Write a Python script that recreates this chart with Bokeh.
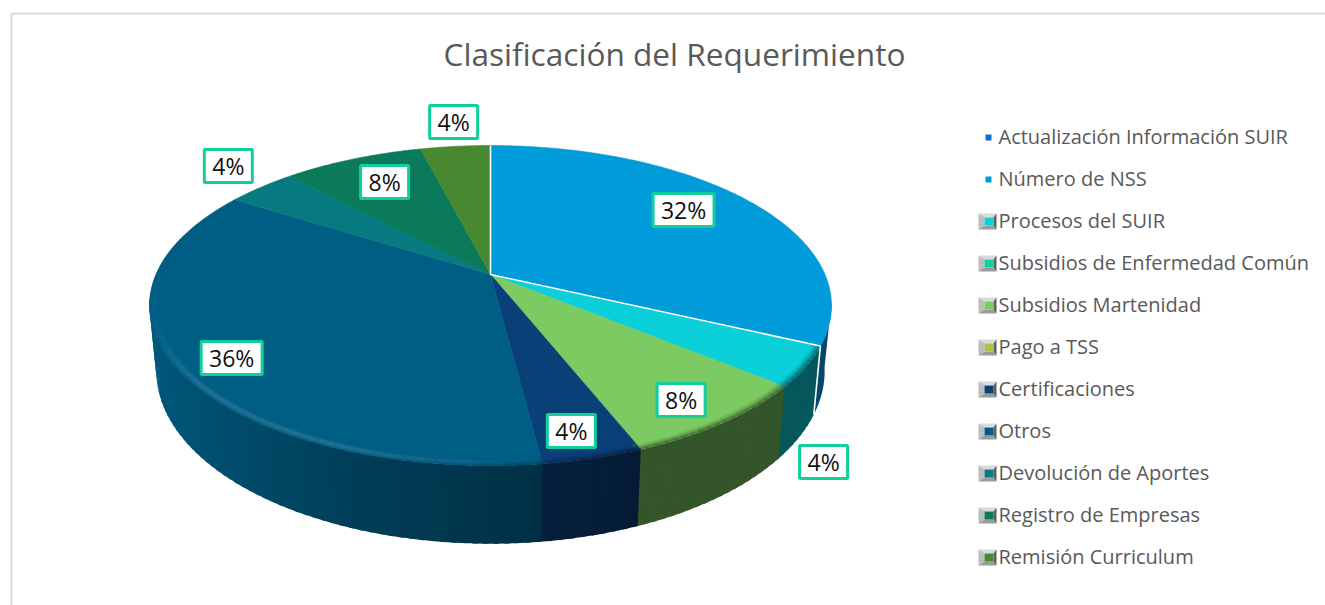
import numpy as np
from bokeh.plotting import figure
from bokeh.models import Range1d, ColumnDataSource
from bokeh.core.properties import value
from bokeh.embed import file_html
from bokeh.resources import INLINE

# ---- data ----
title_text = "Clasificación del Requerimiento"
categories = ["Actualización Información SUIR", "Número de NSS", "Procesos del SUIR",
              "Subsidios de Enfermedad Común", "Subsidios Martenidad", "Pago a TSS",
              "Certificaciones", "Otros", "Devolución de Aportes", "Registro de Empresas",
              "Remisión Curriculum"]
percent = [0, 32, 4, 0, 8, 0, 4, 36, 4, 8, 4]
colors = ["#0F6FC6", "#009BD9", "#0BD0D9", "#10CF9B", "#7CCA62", "#A5C249",
          "#0A4078", "#005E85", "#077A80", "#0A7A5A", "#488830"]

# ---- layout / style (data units are page pixels) ----
W, H = 1325, 605
CX, CY, A, B, K, D, BSCALE = 490.0, 274.0, 154.0, 334.5, 0.194, 63.0, 0.98
LABEL_POLAR = {1: (0.776, -3.2), 2: (1.275, 18.3), 4: (0.862, 1.0), 6: (0.875, 0.9),
               7: (0.854, -2.9), 8: (1.214, 2.3), 9: (0.763, 1.1), 10: (1.228, 1.0)}
FONT = "Open Sans"
GREY = "#595959"
BOX = "#10CF9B"


def top(theta, r=1.0):
    t = np.radians(theta)
    u, v = r * np.sin(t), r * np.cos(t)
    den = 1 + K * v
    return CX + B * u / den, CY - A * v / den


def bottom(theta):
    t = np.radians(theta)
    u, v = np.sin(t), np.cos(t)
    den = 1 + K * v
    return CX + BSCALE * B * u / den, CY + (-A * v + D) / den


def rgb(h):
    return np.array([int(h[i:i + 2], 16) for i in (1, 3, 5)], dtype=float)


def hexc(c):
    c = np.clip(np.round(c), 0, 255).astype(int)
    return "#%02x%02x%02x" % tuple(c)


def wall_shade(x):
    return np.interp(x, [150, 250, 350, 480, 600, 640], [0.92, 0.78, 0.66, 0.56, 0.46, 0.42])


p = figure(width=W, height=H, x_range=Range1d(0, W), y_range=Range1d(H, 0),
           x_axis_type=None, y_axis_type=None, toolbar_location=None, output_backend="svg",
           min_border=0, outline_line_color=None, background_fill_color="white",
           border_fill_color="white")
p.grid.visible = False

# chart frame
p.line([11, 11], [H, 13], line_color="#D9D9D9", line_width=2)
p.line([11, W], [13, 13], line_color="#D9D9D9", line_width=2)

# slice angle spans
spans = []
acc = 0.0
for v in percent:
    spans.append((acc * 3.6, (acc + v) * 3.6))
    acc += v

# walls (overlapping narrow strips imitate the horizontal light gradient)
wx, wy, wc = [], [], []
OVER = 0.7
for i, (a0, a1) in enumerate(spans):
    if a1 <= a0:
        continue
    lo, hi = max(a0, 100.0), min(a1, 262.0)
    if i == 1:  # exploded slice shows only a thin dark side
        th = np.linspace(lo, hi, 14)
        xs = [top(t)[0] for t in th] + [bottom(t)[0] for t in th[::-1]]
        ys = [top(t)[1] for t in th] + [bottom(t)[1] for t in th[::-1]]
        wx.append(xs); wy.append(ys); wc.append("#05476B")
        continue
    if hi <= lo:
        continue
    n = max(int((hi - lo) / 1.5), 1)
    edges = np.linspace(lo, hi, n + 1)
    for e0, e1 in zip(edges[:-1], edges[1:]):
        e2 = min(e1 + OVER, 262.0)
        x0, y0 = top(e0); x1, y1 = top(e2)
        x2, y2 = bottom(e2); x3, y3 = bottom(e0)
        wx.append([x0, x1, x2, x3]); wy.append([y0, y1, y2, y3])
        wc.append(hexc(rgb(colors[i]) * wall_shade((x0 + x1) / 2)))
p.patches("x", "y", source=ColumnDataSource(dict(x=wx, y=wy, c=wc)), fill_color="c", line_color=None)

# top faces
fx, fy, fc = [], [], []
for i, (a0, a1) in enumerate(spans):
    if a1 <= a0 or i == 1:
        continue
    th = np.linspace(a0, a1, max(int(a1 - a0), 2) + 1)
    fx.append([CX] + [top(t)[0] for t in th])
    fy.append([CY] + [top(t)[1] for t in th])
    fc.append(colors[i])
p.patches("x", "y", source=ColumnDataSource(dict(x=fx, y=fy, c=fc)), fill_color="c", line_color="c", line_width=0.6)

# bevel along the rim
bx, by, bc = [], [], []
NB = 6
rs = np.linspace(0.975, 1.0, NB + 1)
for i, (a0, a1) in enumerate(spans):
    lo, hi = max(a0, 115.2), min(a1, 285.0)
    if a1 <= a0 or hi <= lo or i == 1:
        continue
    n = max(int((hi - lo) / 1.5), 1)
    edges = np.linspace(lo, hi, n + 1)
    base = rgb(colors[i])
    for e0, e1 in zip(edges[:-1], edges[1:]):
        xm = top((e0 + e1) / 2)[0]
        wall = base * wall_shade(xm)
        fade = np.interp((e0 + e1) / 2, [240, 272], [1.0, 0.0])
        lt = np.interp(xm, [150, 200, 340, 480, 560], [0.04, 0.14, 0.14, 0.06, 0.0]) * fade
        dk = np.interp(xm, [150, 340, 480, 640], [0.0, 0.1, 0.45, 0.9])
        for b in range(NB):
            t = (b + 0.5) / NB
            x0, y0 = top(e0, rs[b]); x1, y1 = top(e1 + OVER, rs[b])
            x2, y2 = top(e1 + OVER, rs[b + 1]); x3, y3 = top(e0, rs[b + 1])
            c = base + (wall - base) * dk * t ** 1.5
            c = c + (255 - c) * lt * np.sin(np.pi * t)
            bx.append([x0, x1, x2, x3]); by.append([y0, y1, y2, y3]); bc.append(hexc(c))
p.patches("x", "y", source=ColumnDataSource(dict(x=bx, y=by, c=bc)), fill_color="c", line_color=None)

# exploded slice, with white edges
a0, a1 = spans[1]
th = np.linspace(a0, a1, 120)
xs = [CX] + [top(t)[0] for t in th]
ys = [CY] + [top(t)[1] for t in th]
p.patch(xs, ys, fill_color=colors[1], line_color=colors[1], line_width=0.6)
ex, ey = top(a1)
bxe, bye = bottom(a1)
sx, sy = top(a0)
p.line([sx, CX, ex, bxe], [sy, CY, ey, bye], line_color="white", line_width=1.6)

# data labels
lx, ly, lt, lw = [], [], [], []
for i, (a0, a1) in enumerate(spans):
    if a1 <= a0:
        continue
    r, dth = LABEL_POLAR[i]
    x, y = top((a0 + a1) / 2 + dth, r)
    lx.append(x - 1); ly.append(y - 0.5); lt.append(f"{percent[i]}%")
    lw.append(48 if percent[i] < 10 else 61)
ls = ColumnDataSource(dict(x=lx, y=ly, t=lt, w=lw))
p.rect("x", "y", width="w", height=33, source=ls, fill_color="white", line_color=BOX, line_width=3)
p.text("x", "y", text="t", source=ls, text_align="center", text_baseline="middle",
       text_font=value(FONT), text_font_size="23px", text_color="#111111")

# title
p.text([674], [53], text=[title_text], text_align="center", text_baseline="middle",
       text_font=value(FONT), text_font_size="31.6px", text_color=GREY)

# legend
LEG_Y0, LEG_DY, LEG_X = 136, 42, 998
ly = [LEG_Y0 + LEG_DY * i for i in range(len(categories))]
p.text([LEG_X] * len(categories), ly, text=categories, text_align="left", text_baseline="middle",
       text_font=value(FONT), text_font_size="20px", text_color=GREY)
for i, (c, y) in enumerate(zip(colors, ly)):
    if i < 2:
        p.rect([988], [y + 1], width=6, height=6, fill_color=c, line_color=None)
        continue
    x0, x1, y0, y1 = 978, 996, y - 7, y + 9
    ix0, ix1, iy0, iy1 = 984, 993, y - 3, y + 5
    p.patch([x0, x1, ix1, ix0], [y0, y0, iy0, iy0], fill_color="#DADADA", line_color=None)
    p.patch([x0, ix0, ix0, x0], [y0, iy0, iy1, y1], fill_color="#BDBDBD", line_color=None)
    p.patch([x0, ix0, ix1, x1], [y1, iy1, iy1, y1], fill_color="#9A9A9A", line_color=None)
    p.patch([x1, ix1, ix1, x1], [y0, iy0, iy1, y1], fill_color="#5F5F5F", line_color=None)
    p.rect([(ix0 + ix1) / 2], [(iy0 + iy1) / 2], width=ix1 - ix0, height=iy1 - iy0, fill_color=c, line_color=None)

open("out.html", "w").write(file_html(p, INLINE))
